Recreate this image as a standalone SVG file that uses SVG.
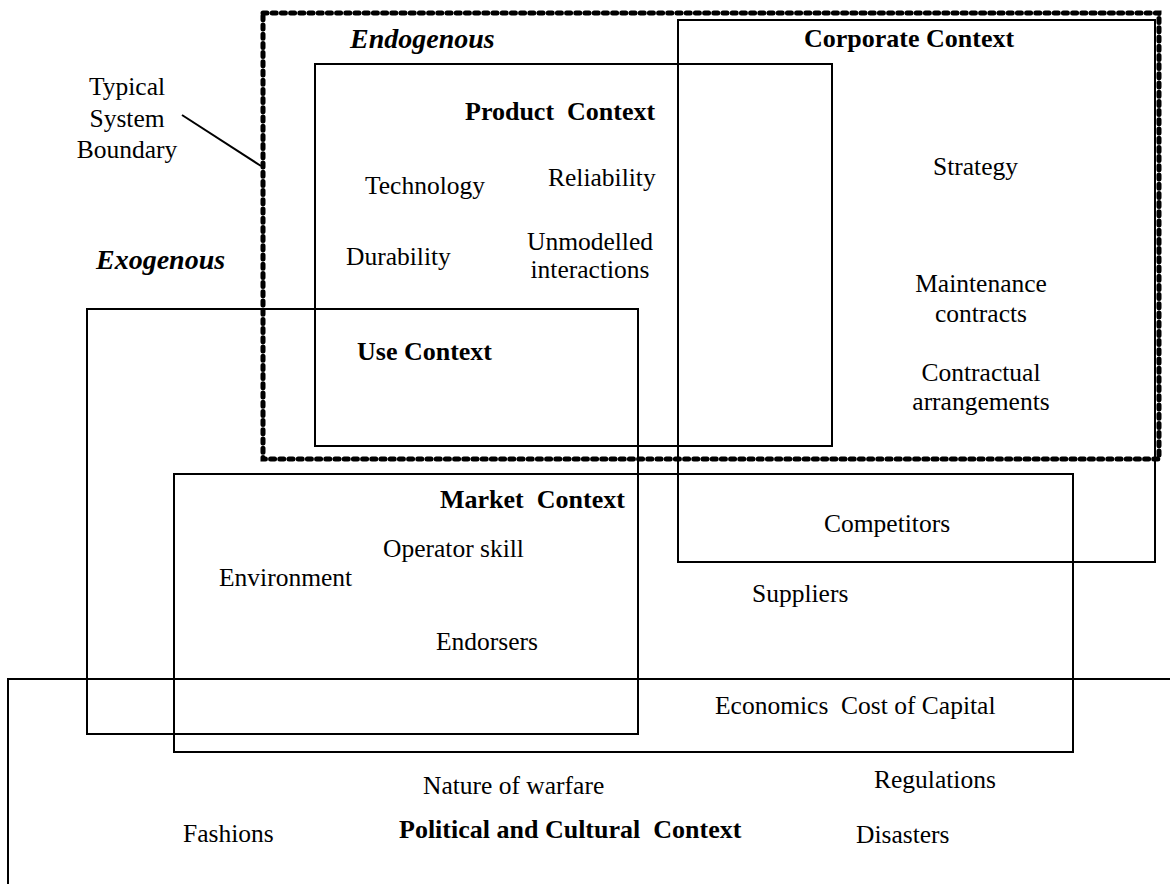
<svg xmlns="http://www.w3.org/2000/svg" width="1170" height="884" viewBox="0 0 1170 884">
<style>
.box{fill:none;stroke:#000;stroke-width:2}
.bnd{fill:none;stroke:#000;stroke-width:5;stroke-dasharray:4 5.2;stroke-linecap:round}
text{font-family:"Liberation Serif","Times New Roman",serif;font-size:25.5px;fill:#000;white-space:pre}
.b{font-weight:bold;font-size:26px}
.bi{font-weight:bold;font-style:italic;font-size:28px}
.m{text-anchor:middle}
</style>
<rect width="1170" height="884" fill="#fff"/>
<g id="political-context">
<polyline class="box" points="8,884 8,679 1170,679"/>
<text class="b" x="399" y="838" xml:space="preserve">Political and Cultural  Context</text>
<text x="423" y="794">Nature of warfare</text>
<text x="874" y="788">Regulations</text>
<text x="183" y="842">Fashions</text>
<text x="856" y="843">Disasters</text>
</g>
<g id="market-context">
<rect class="box" x="174" y="474" width="899" height="278"/>
<text class="b" x="440" y="508" xml:space="preserve">Market  Context</text>
<text x="383" y="557">Operator skill</text>
<text x="219" y="586">Environment</text>
<text x="752" y="602">Suppliers</text>
<text x="436" y="650">Endorsers</text>
<text x="715" y="714" xml:space="preserve">Economics  Cost of Capital</text>
</g>
<g id="use-context">
<rect class="box" x="87" y="309" width="551" height="425"/>
<text class="b" x="357" y="360">Use Context</text>
</g>
<g id="corporate-context">
<rect class="box" x="678" y="20" width="477" height="542"/>
<text class="b" x="804" y="47">Corporate Context</text>
<text x="933" y="175">Strategy</text>
<text class="m" x="981" y="292">Maintenance</text>
<text class="m" x="981" y="322">contracts</text>
<text class="m" x="981" y="381">Contractual</text>
<text class="m" x="981" y="410">arrangements</text>
<text x="824" y="532">Competitors</text>
</g>
<g id="product-context">
<rect class="box" x="315" y="64" width="517" height="382"/>
<text class="b" x="465" y="120" xml:space="preserve">Product  Context</text>
<text x="365" y="194">Technology</text>
<text x="548" y="186">Reliability</text>
<text x="346" y="265">Durability</text>
<text class="m" x="590" y="250">Unmodelled</text>
<text class="m" x="590" y="278">interactions</text>
</g>
<g id="system-boundary">
<rect class="bnd" x="263" y="13" width="896" height="446"/>
<text class="bi" x="350" y="48">Endogenous</text>
<text class="bi" x="96" y="269">Exogenous</text>
<text class="m" x="127" y="95">Typical</text>
<text class="m" x="127" y="127">System</text>
<text class="m" x="127" y="158">Boundary</text>
</g>
<g id="connectors">
<line x1="182" y1="115" x2="261" y2="166" stroke="#000" stroke-width="2"/>
</g>
</svg>
